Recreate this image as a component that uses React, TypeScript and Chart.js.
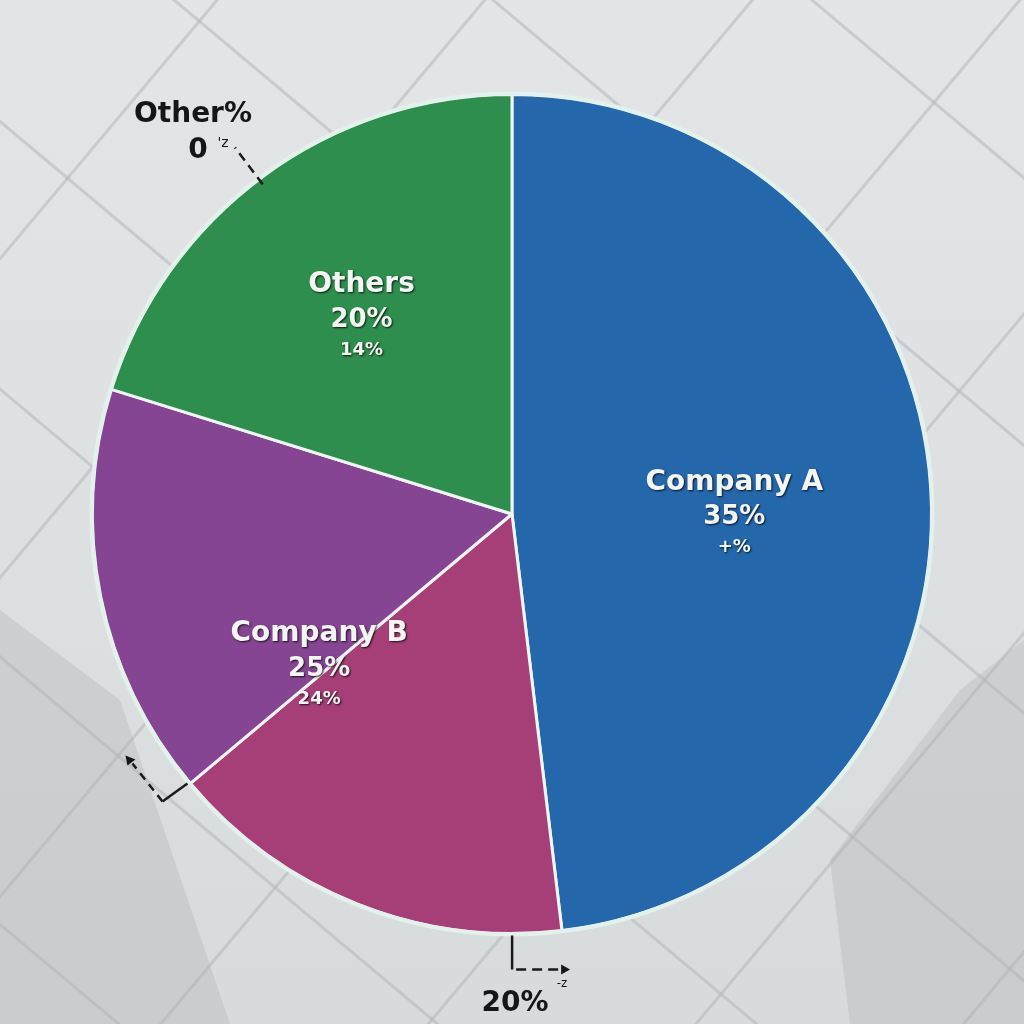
import React, { useEffect, useRef } from "react";
import { Chart, registerables } from "chart.js";

Chart.register(...registerables);

// ---- data ----
const categories = ["Company A", "Company B (lower part)", "Company B", "Others"];
const shares = [48.1, 15.8, 15.9, 20.2];
const sliceColors = ["#2467ab", "#a63f77", "#864592", "#2d8e4d"];
const labelLinesA = ["Company A", "35%", "+%"];
const labelLinesB = ["Company B", "25%", "24%"];
const labelLinesOthers = ["Others", "20%", "14%"];
const outsideOthers = ["Other%", "0"];
const outsideBottom = "20%";

const innerLabels: string[][] = [labelLinesA, [], labelLinesB, labelLinesOthers];
// placement inside each slice: [fraction of the slice's sweep, fraction of radius]
const innerPlace: number[][] = [
  [0.525, 0.53],
  [0.5, 0.6],
  [0.02, 0.59],
  [0.48, 0.585],
];

const bgPlugin = {
  id: "bgPlugin",
  beforeDraw(chart: any) {
    const { ctx, width, height } = chart;
    ctx.save();
    const g = ctx.createLinearGradient(0, 0, 0, height);
    g.addColorStop(0, "#e3e5e6");
    g.addColorStop(1, "#d8dbdc");
    ctx.fillStyle = g;
    ctx.fillRect(0, 0, width, height);
    // darker facets
    ctx.fillStyle = "rgba(150,156,160,0.22)";
    ctx.beginPath();
    ctx.moveTo(0, 610);
    ctx.lineTo(120, 700);
    ctx.lineTo(230, 1024);
    ctx.lineTo(0, 1024);
    ctx.closePath();
    ctx.fill();
    ctx.beginPath();
    ctx.moveTo(1024, 640);
    ctx.lineTo(960, 690);
    ctx.lineTo(830, 860);
    ctx.lineTo(850, 1024);
    ctx.lineTo(1024, 1024);
    ctx.closePath();
    ctx.fill();
    // diagonal tile grid
    ctx.translate(width / 2, height / 2);
    ctx.rotate((40 * Math.PI) / 180);
    ctx.strokeStyle = "rgba(175,180,184,0.5)";
    ctx.lineWidth = 3;
    const step = 205;
    for (let k = -8; k <= 8; k++) {
      ctx.beginPath();
      ctx.moveTo(k * step + 60, -1000);
      ctx.lineTo(k * step + 60, 1000);
      ctx.stroke();
      ctx.beginPath();
      ctx.moveTo(-1000, k * step + 30);
      ctx.lineTo(1000, k * step + 30);
      ctx.stroke();
    }
    ctx.restore();
  },
};

function drawLines(ctx: any, lines: string[], x: number, y: number, sizes: number[], offs: number[], color: string, shadow: boolean, weight = "bold") {
  lines.forEach((t, i) => {
    ctx.font = `${weight} ${sizes[i]}px "DejaVu Sans", sans-serif`;
    ctx.textAlign = "center";
    ctx.textBaseline = "middle";
    if (shadow) {
      ctx.shadowColor = "rgba(0,0,0,0.8)";
      ctx.shadowBlur = 2;
      ctx.shadowOffsetX = 1;
      ctx.shadowOffsetY = 1;
    } else {
      ctx.shadowColor = "transparent";
    }
    ctx.fillStyle = color;
    ctx.fillText(t, x, y + offs[i]);
  });
  ctx.shadowColor = "transparent";
}

function edgePoint(arc: any, angle: number, rf: number) {
  const r = arc.outerRadius * rf;
  return { x: arc.x + r * Math.cos(angle), y: arc.y + r * Math.sin(angle) };
}

const labelPlugin = {
  id: "labelPlugin",
  afterDatasetsDraw(chart: any) {
    const ctx = chart.ctx;
    const arcs = chart.getDatasetMeta(0).data;
    const a0 = arcs[0];
    ctx.save();
    // outer pale ring
    ctx.beginPath();
    ctx.arc(a0.x, a0.y, a0.outerRadius + 1, 0, Math.PI * 2);
    ctx.strokeStyle = "#e3f1ec";
    ctx.lineWidth = 4;
    ctx.stroke();

    // inner labels
    arcs.forEach((arc: any, i: number) => {
      const lines = innerLabels[i];
      if (!lines || !lines.length) return;
      const [af, rf] = innerPlace[i];
      const ang = arc.startAngle + (arc.endAngle - arc.startAngle) * af;
      const p = edgePoint(arc, ang, rf);
      drawLines(ctx, lines, p.x, p.y, [28, 26, 18], [-35, 0, 30], "#f2f5f2", true);
    });

    ctx.strokeStyle = "#1a1a1a";
    ctx.fillStyle = "#1a1a1a";
    ctx.lineWidth = 2.5;

    // Others: outside label with dashed radial leader
    const g = arcs[3];
    const gAng = g.startAngle + (g.endAngle - g.startAngle) * 0.49;
    const p0 = edgePoint(g, gAng, 0.985);
    const p1 = edgePoint(g, gAng, 1.095);
    ctx.setLineDash([9, 6]);
    ctx.beginPath();
    ctx.moveTo(p0.x, p0.y);
    ctx.lineTo(p1.x, p1.y);
    ctx.stroke();
    ctx.setLineDash([]);
    drawLines(ctx, [outsideOthers[0]], p1.x - 42, p1.y - 33, [28], [0], "#161616", false);
    drawLines(ctx, [outsideOthers[1]], p1.x - 37, p1.y + 3, [28], [0], "#161616", false);
    ctx.font = '14px "DejaVu Sans", sans-serif';
    ctx.fillText("'z", p1.x - 12, p1.y - 4);

    // bottom: magenta slice
    const m = arcs[1];
    const mAng = m.startAngle + (m.endAngle - m.startAngle) * 0.12;
    const q0 = edgePoint(m, mAng, 1.0);
    const q1 = { x: q0.x, y: q0.y + 36 };
    ctx.beginPath();
    ctx.moveTo(q0.x, q0.y + 2);
    ctx.lineTo(q1.x, q1.y);
    ctx.stroke();
    ctx.setLineDash([10, 6]);
    ctx.beginPath();
    ctx.moveTo(q1.x + 4, q1.y);
    ctx.lineTo(q1.x + 50, q1.y);
    ctx.stroke();
    ctx.setLineDash([]);
    ctx.beginPath();
    ctx.moveTo(q1.x + 58, q1.y);
    ctx.lineTo(q1.x + 49, q1.y - 5);
    ctx.lineTo(q1.x + 49, q1.y + 5);
    ctx.closePath();
    ctx.fill();
    ctx.font = '12px "DejaVu Sans", sans-serif';
    ctx.textAlign = "center";
    ctx.fillText("-z", q1.x + 50, q1.y + 14);
    drawLines(ctx, [outsideBottom], q1.x + 3, q1.y + 34, [28], [0], "#161616", false);

    // left: purple/magenta boundary leader
    const pu = arcs[2];
    const r0 = edgePoint(pu, pu.startAngle, 1.0);
    const c = { x: r0.x - 28, y: r0.y + 18 };
    ctx.beginPath();
    ctx.moveTo(r0.x - 3, r0.y);
    ctx.lineTo(c.x, c.y);
    ctx.stroke();
    ctx.setLineDash([8, 6]);
    ctx.beginPath();
    ctx.moveTo(c.x, c.y);
    ctx.lineTo(c.x - 30, c.y - 38);
    ctx.stroke();
    ctx.setLineDash([]);
    ctx.beginPath();
    ctx.moveTo(c.x - 37, c.y - 46);
    ctx.lineTo(c.x - 27, c.y - 42);
    ctx.lineTo(c.x - 35, c.y - 36);
    ctx.closePath();
    ctx.fill();

    ctx.restore();
  },
};

export default function App() {
  const ref = useRef<HTMLCanvasElement | null>(null);
  useEffect(() => {
    if (!ref.current) return;
    const chart = new Chart(ref.current, {
      type: "pie",
      data: {
        labels: categories,
        datasets: [
          {
            data: shares,
            backgroundColor: sliceColors,
            borderColor: "#eef5f2",
            borderWidth: 3,
          },
        ],
      },
      options: {
        responsive: false,
        animation: false,
        layout: { padding: { left: 91, right: 91, top: 93, bottom: 89 } },
        plugins: {
          legend: { display: false },
          tooltip: { enabled: false },
        },
      },
      plugins: [bgPlugin, labelPlugin],
    });
    return () => chart.destroy();
  }, []);
  return (
    <div style={{ position: "absolute", left: 0, top: 0, width: 1024, height: 1024 }}>
      <canvas ref={ref} width={1024} height={1024} style={{ width: 1024, height: 1024 }} />
    </div>
  );
}
